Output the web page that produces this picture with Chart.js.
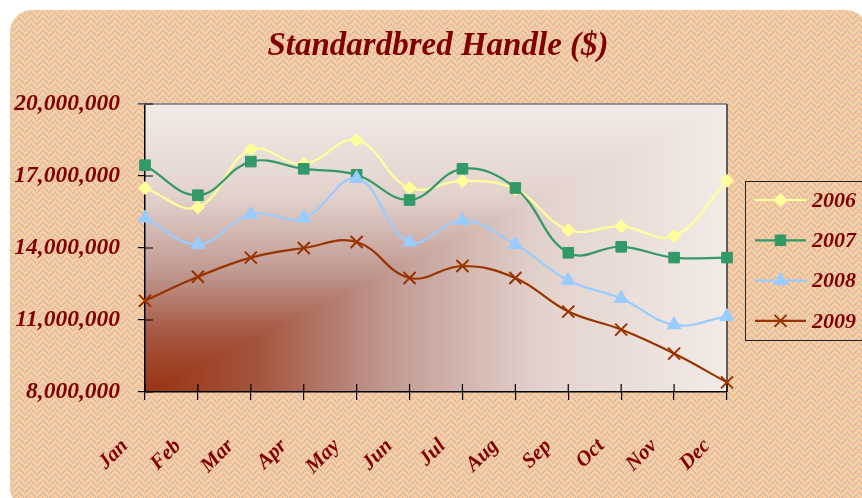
<!DOCTYPE html>
<html>
<head>
<meta charset="utf-8">
<title>Standardbred Handle</title>
<script src="https://cdn.jsdelivr.net/npm/chart.js@4.4.1/dist/chart.umd.min.js"></script>
<style>
  html, body { margin: 0; padding: 0; background: #fff; }
  #wrap { width: 862px; height: 498px; }
</style>
</head>
<body>
<div id="wrap"><canvas id="handleChart" width="862" height="498"></canvas></div>
<script>
const months = ['Jan', 'Feb', 'Mar', 'Apr', 'May', 'Jun', 'Jul', 'Aug', 'Sep', 'Oct', 'Nov', 'Dec'];
const handle2006 = [16500000, 15700000, 18100000, 17500000, 18500000, 16500000, 16800000, 16450000, 14750000, 14900000, 14500000, 16800000];
const handle2007 = [17450000, 16200000, 17600000, 17300000, 17050000, 16000000, 17300000, 16500000, 13800000, 14050000, 13600000, 13600000];
const handle2008 = [15250000, 14150000, 15400000, 15250000, 16900000, 14250000, 15150000, 14150000, 12650000, 11900000, 10800000, 11150000];
const handle2009 = [11800000, 12800000, 13600000, 14000000, 14250000, 12750000, 13250000, 12750000, 11350000, 10600000, 9600000, 8400000];
const yTickValues = [8000000, 11000000, 14000000, 17000000, 20000000];

const titleText = 'Standardbred Handle ($)';
const maroon = '#800000';
const serif = '"Liberation Serif", "Times New Roman", serif';

// woven peach fill used for the outer panel
function makeWeave() {
    const c = document.createElement('canvas');
    c.width = 12;
    c.height = 12;
    const g = c.getContext('2d');
    g.fillStyle = '#FFCC99';
    g.fillRect(0, 0, 12, 12);
    g.fillStyle = '#CBC1B8';
    for (let y = 0; y < 12; y++) {
        for (let x = 0; x < 12; x++) {
            const d = x < 6 ? (x + y) % 6 : (x - y + 12) % 6;
            if (d < 2) g.fillRect(x, y, 1, 1);
        }
    }
    return c;
}

const plotStops = [
    [0, '#983212'],
    [0.2, '#A5563F'],
    [0.42, '#C19A92'],
    [0.68, '#E2D2CC'],
    [1, '#F3EBE7']
];

function roundRect(ctx, x, y, w, h, r) {
    ctx.beginPath();
    ctx.moveTo(x + r, y);
    ctx.lineTo(x + w - r, y);
    ctx.arcTo(x + w, y, x + w, y + r, r);
    ctx.lineTo(x + w, y + h - r);
    ctx.arcTo(x + w, y + h, x + w - r, y + h, r);
    ctx.lineTo(x + r, y + h);
    ctx.arcTo(x, y + h, x, y + h - r, r);
    ctx.lineTo(x, y + r);
    ctx.arcTo(x, y, x + r, y, r);
    ctx.closePath();
}

const backdrop = {
    id: 'backdrop',
    beforeDraw(chart) {
        const { ctx, chartArea: a } = chart;
        ctx.save();
        ctx.fillStyle = '#fff';
        ctx.fillRect(0, 0, chart.width, chart.height);
        roundRect(ctx, 10, 10, 858, 500, 22);
        ctx.fillStyle = ctx.createPattern(makeWeave(), 'repeat');
        ctx.fill();

        // corner gradient: horizontal below the diagonal, vertical above it
        const horiz = ctx.createLinearGradient(a.left, 0, a.right, 0);
        const vert = ctx.createLinearGradient(0, a.bottom, 0, a.top);
        plotStops.forEach(([t, c]) => { horiz.addColorStop(t, c); vert.addColorStop(t, c); });
        ctx.fillStyle = horiz;
        ctx.fillRect(a.left, a.top, a.right - a.left, a.bottom - a.top);
        ctx.beginPath();
        ctx.moveTo(a.left, a.bottom);
        ctx.lineTo(a.right, a.top);
        ctx.lineTo(a.left, a.top);
        ctx.closePath();
        ctx.fillStyle = vert;
        ctx.fill();

        // title
        ctx.fillStyle = maroon;
        ctx.font = 'italic bold 33px ' + serif;
        ctx.textAlign = 'center';
        ctx.textBaseline = 'middle';
        ctx.fillText(titleText, 438, 46);
        ctx.restore();
    },
    beforeDatasetsDraw(chart) {
        const { ctx, chartArea: a, scales } = chart;
        ctx.save();
        // frame on top and right of the plot
        ctx.strokeStyle = '#777';
        ctx.lineWidth = 1.5;
        ctx.beginPath();
        ctx.moveTo(a.left - 7, a.top);
        ctx.lineTo(a.right, a.top);
        ctx.stroke();
        ctx.strokeStyle = '#333';
        ctx.beginPath();
        ctx.moveTo(a.right, a.top);
        ctx.lineTo(a.right, a.bottom);
        ctx.stroke();
        // inner halves of the tick marks
        ctx.strokeStyle = '#000';
        ctx.lineWidth = 1.2;
        ctx.beginPath();
        scales.y.ticks.forEach((t, i) => {
            const py = scales.y.getPixelForTick(i);
            ctx.moveTo(a.left, py);
            ctx.lineTo(a.left + 8, py);
        });
        scales.x.ticks.forEach((t, i) => {
            const px = scales.x.getPixelForTick(i);
            ctx.moveTo(px, a.bottom);
            ctx.lineTo(px, a.bottom - 8);
        });
        ctx.stroke();
        ctx.restore();
    },
    afterDraw(chart) {
        const { ctx } = chart;
        const box = { x: 745, y: 181, w: 140, h: 159 };
        ctx.save();
        ctx.strokeStyle = '#222';
        ctx.lineWidth = 1;
        ctx.strokeRect(box.x + 0.5, box.y + 0.5, box.w, box.h);
        ctx.font = 'italic bold 22px ' + serif;
        ctx.textAlign = 'left';
        ctx.textBaseline = 'middle';
        chart.data.datasets.forEach((ds, i) => {
            const cy = box.y + 19 + i * 40.3;
            ctx.strokeStyle = ds.borderColor;
            ctx.lineWidth = ds.borderWidth;
            ctx.beginPath();
            ctx.moveTo(755, cy);
            ctx.lineTo(806, cy);
            ctx.stroke();
            ctx.fillStyle = ds.pointBackgroundColor;
            ctx.strokeStyle = ds.pointBorderColor;
            ctx.lineWidth = ds.pointBorderWidth;
            Chart.helpers.drawPoint(ctx, {
                pointStyle: ds.pointStyle,
                radius: ds.pointRadius,
                rotation: 0,
                borderWidth: ds.pointBorderWidth
            }, 780.5, cy);
            ctx.fillStyle = maroon;
            ctx.fillText(ds.label, 812, cy + 1);
        });
        ctx.restore();
    }
};

function series(label, data, color, style, radius, bw, order) {
    return {
        label,
        data,
        borderColor: color,
        backgroundColor: color,
        pointBackgroundColor: color,
        pointBorderColor: color,
        pointBorderWidth: bw,
        pointStyle: style,
        pointRadius: radius,
        pointHoverRadius: radius,
        borderWidth: 2.2,
        tension: 0.4,
        clip: false,
        order
    };
}

new Chart(document.getElementById('handleChart'), {
    type: 'line',
    data: {
        labels: months,
        datasets: [
            series('2006', handle2006, '#FFFF99', 'rectRot', 6.5, 1, 3),
            series('2007', handle2007, '#339966', 'rect', 7.5, 1, 2),
            series('2008', handle2008, '#99CCFF', 'triangle', 8, 1, 1),
            series('2009', handle2009, '#993300', 'crossRot', 8.5, 2, 0)
        ]
    },
    options: {
        responsive: false,
        animation: false,
        layout: { padding: { top: 104, right: 135, left: 0, bottom: 0 } },
        scales: {
            x: {
                offset: false,
                border: { display: true, color: '#000', width: 1.5 },
                grid: { drawOnChartArea: false, drawTicks: true, tickLength: 8, color: '#000', lineWidth: 1.2 },
                ticks: {
                    autoSkip: false,
                    minRotation: 45,
                    maxRotation: 45,
                    labelOffset: -20,
                    padding: 34,
                    color: maroon,
                    font: { family: serif, size: 21, weight: 'bold', style: 'italic' }
                },
                afterFit(scale) { scale.height = 106; }
            },
            y: {
                min: yTickValues[0],
                max: yTickValues[yTickValues.length - 1],
                border: { display: true, color: '#000', width: 1.5 },
                grid: { drawOnChartArea: false, drawTicks: true, tickLength: 7, color: '#000', lineWidth: 1.2 },
                afterBuildTicks(scale) { scale.ticks = yTickValues.map(value => ({ value })); },
                ticks: {
                    padding: 18,
                    color: maroon,
                    font: { family: serif, size: 23.5, weight: 'bold', style: 'italic' },
                    callback: value => value.toLocaleString('en-US')
                },
                afterFit(scale) { scale.width = 145; }
            }
        },
        plugins: {
            legend: { display: false },
            title: { display: false },
            tooltip: { enabled: false }
        }
    },
    plugins: [backdrop]
});
</script>
</body>
</html>
